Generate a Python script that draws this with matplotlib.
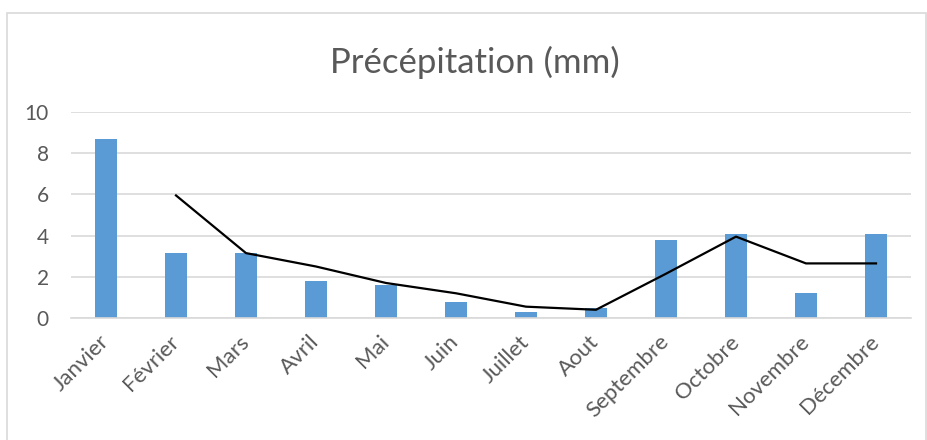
import matplotlib.pyplot as plt
from matplotlib.patches import Rectangle

mois = ['Janvier', 'Février', 'Mars', 'Avril', 'Mai', 'Juin', 'Juillet',
        'Aout', 'Septembre', 'Octobre', 'Novembre', 'Décembre']
precip = [8.7, 3.15, 3.15, 1.8, 1.6, 0.8, 0.3, 0.5, 3.8, 4.1, 1.2, 4.1]

# moyenne mobile sur 2 périodes (pas de valeur pour janvier)
moy_x = [1, 2, 3, 4, 5, 6, 7, 8, 9, 10, 11]
moy_y = [5.95, 3.15, 2.5, 1.7, 1.2, 0.55, 0.4, 2.15, 3.95, 2.65, 2.65]

plt.rcParams['font.family'] = ['Lato', 'DejaVu Sans']
gris = '#595959'

fig = plt.figure(figsize=(9.28, 4.4), dpi=100)
ax = fig.add_axes([71 / 928, 1 - 318 / 440, (911 - 71) / 928, (318 - 112) / 440])

# cadre du graphique
fig.patches.append(Rectangle((7 / 928, -0.1), 919 / 928, 1.1 - 13 / 440,
                             transform=fig.transFigure, fill=False,
                             edgecolor='#d9d9d9', lw=1.2))

x = list(range(len(mois)))
ax.bar(x, precip, width=0.31, color='#5b9bd5', zorder=2)
ax.plot(moy_x, moy_y, color='black', lw=1.6, zorder=3)

ax.set_xlim(-0.5, 11.5)
ax.set_ylim(0, 10)
ax.set_yticks([0, 2, 4, 6, 8, 10])
ax.yaxis.grid(True, color='#d9d9d9', lw=1.2, zorder=0)
for s in ['top', 'right', 'left']:
    ax.spines[s].set_visible(False)
ax.spines['bottom'].set_color('#d9d9d9')
ax.spines['bottom'].set_linewidth(1.2)
ax.tick_params(length=0, colors=gris, labelsize=15)
ax.tick_params(axis='y', pad=16)
ax.set_xticks(x)
ax.set_xticklabels(mois, rotation=45, ha='right', va='center',
                   rotation_mode='anchor', fontsize=16)
ax.tick_params(axis='x', pad=15)

fig.text(475 / 928, 1 - 62 / 440, 'Précépitation (mm)', ha='center',
         va='center', fontsize=25, color=gris)

fig.savefig('out.png', dpi=100)
